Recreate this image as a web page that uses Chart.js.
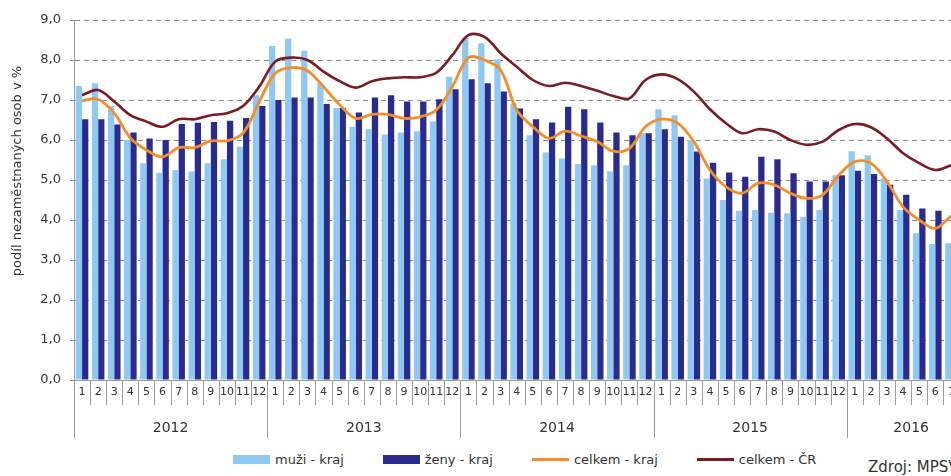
<!DOCTYPE html>
<html lang="cs">
<head>
    <meta charset="UTF-8">
    <title>Podíl nezaměstnaných osob</title>
    <script src="https://cdn.jsdelivr.net/npm/chart.js"></script>
    <style>
        body {
            margin: 0;
            width: 951px;
            height: 476px;
            overflow: hidden;
            background: #ffffff;
            font-family: "DejaVu Sans", Verdana, sans-serif;
            color: #333333;
            position: relative;
        }

        /* chart is wider than the window, the right edge is cut like in the source */
        .chart-box {
            position: absolute;
            left: 0;
            top: 0;
            width: 977px;
            height: 442px;
        }

        .legend {
            position: absolute;
            left: 233px;
            top: 452px;
            display: flex;
            gap: 39px;
            font-size: 13px;
            white-space: nowrap;
        }

        .legend .item {
            display: flex;
            align-items: center;
        }

        .legend .swatch {
            width: 37px;
            margin-right: 5px;
        }

        .source {
            position: absolute;
            left: 868px;
            top: 458px;
            font-size: 15px;
            white-space: nowrap;
        }
    </style>
</head>
<body>

    <div class="chart-box">
        <canvas id="unempChart"></canvas>
    </div>
    <div class="legend" id="legend"></div>
    <div class="source">Zdroj: MPSV</div>

    <script>
        // data
        const years = ['2012', '2013', '2014', '2015', '2016'];
        const monthsPerYear = [12, 12, 12, 12, 8];
        const yTitle = 'podíl nezaměstnaných osob v %';

        const muziKraj = [
            7.35, 7.42, 6.85, 6.00, 5.42, 5.18, 5.25, 5.21, 5.42, 5.52, 5.83, 7.12,
            8.35, 8.54, 8.23, 7.42, 6.80, 6.33, 6.27, 6.14, 6.19, 6.22, 6.46, 7.58,
            8.55, 8.42, 8.02, 6.92, 6.12, 5.69, 5.54, 5.40, 5.37, 5.22, 5.37, 6.17,
            6.77, 6.62, 6.00, 5.04, 4.50, 4.23, 4.25, 4.18, 4.17, 4.08, 4.25, 5.12,
            5.72, 5.62, 5.04, 4.25, 3.67, 3.40, 3.42, 3.50
        ];
        const zenyKraj = [
            6.52, 6.52, 6.39, 6.19, 6.04, 6.00, 6.40, 6.43, 6.45, 6.48, 6.55, 6.85,
            7.00, 7.06, 7.06, 6.90, 6.80, 6.69, 7.06, 7.12, 6.96, 6.96, 7.02, 7.27,
            7.52, 7.42, 7.21, 6.79, 6.52, 6.44, 6.83, 6.77, 6.44, 6.19, 6.12, 6.17,
            6.27, 6.08, 5.71, 5.43, 5.19, 5.08, 5.58, 5.52, 5.17, 4.96, 4.96, 5.12,
            5.23, 5.15, 4.88, 4.63, 4.29, 4.23, 4.30, 4.40
        ];
        const celkemKraj = [
            6.98, 7.02, 6.67, 6.05, 5.75, 5.58, 5.81, 5.81, 5.98, 5.98, 6.17, 6.95,
            7.67, 7.81, 7.73, 7.33, 6.88, 6.54, 6.64, 6.64, 6.54, 6.58, 6.75, 7.33,
            8.06, 8.00, 7.75, 6.75, 6.33, 6.04, 6.22, 6.10, 5.96, 5.72, 5.79, 6.33,
            6.52, 6.42, 5.96, 5.25, 4.83, 4.67, 4.92, 4.88, 4.67, 4.54, 4.63, 5.12,
            5.46, 5.42, 4.96, 4.33, 4.00, 3.79, 4.10, 4.30
        ];
        const celkemCR = [
            7.12, 7.25, 6.96, 6.62, 6.46, 6.33, 6.52, 6.52, 6.62, 6.67, 6.85, 7.33,
            7.96, 8.06, 8.00, 7.71, 7.47, 7.31, 7.47, 7.54, 7.57, 7.57, 7.68, 8.12,
            8.62, 8.58, 8.17, 7.83, 7.50, 7.35, 7.43, 7.35, 7.23, 7.10, 7.04, 7.50,
            7.64, 7.52, 7.21, 6.77, 6.42, 6.17, 6.27, 6.21, 6.00, 5.88, 5.96, 6.25,
            6.40, 6.32, 6.04, 5.67, 5.42, 5.25, 5.37, 5.50
        ];

        const colors = {
            muzi: '#8fc9f3',
            zeny: '#2a2b8e',
            kraj: '#f58d28',
            cr: '#7b1b24'
        };

        // month labels 1..12 for every year
        const monthLabels = [];
        monthsPerYear.forEach(n => {
            for (let m = 1; m <= n; m++) monthLabels.push(String(m));
        });

        const fontName = '"DejaVu Sans", Verdana, sans-serif';

        // month/year separators under the axis, year captions and the y title
        const axisDecor = {
            id: 'axisDecor',
            afterDraw(chart) {
                const { ctx, chartArea } = chart;
                const x = chart.scales.x;
                const half = (x.getPixelForValue(1) - x.getPixelForValue(0)) / 2;
                const bottom = chartArea.bottom;

                ctx.save();
                ctx.strokeStyle = '#9c9c9c';
                ctx.lineWidth = 1;
                for (let i = 0; i <= monthLabels.length; i++) {
                    const px = Math.round(x.getPixelForValue(i) - half) + 0.5;
                    const yearEdge = i % 12 === 0;
                    ctx.beginPath();
                    ctx.moveTo(px, bottom);
                    ctx.lineTo(px, bottom + (yearEdge ? 58 : 25));
                    ctx.stroke();
                }

                ctx.fillStyle = '#333333';
                ctx.font = '14px ' + fontName;
                ctx.textAlign = 'center';
                ctx.textBaseline = 'middle';
                let start = 0;
                years.forEach((yr, k) => {
                    const end = start + monthsPerYear[k] - 1;
                    const cx = (x.getPixelForValue(start) + x.getPixelForValue(end)) / 2;
                    ctx.fillText(yr, cx, bottom + 48);
                    start = end + 1;
                });

                ctx.font = '13px ' + fontName;
                ctx.translate(18, chartArea.top + 151);
                ctx.rotate(-Math.PI / 2);
                ctx.fillText(yTitle, 0, 0);
                ctx.restore();
            }
        };

        const ctx = document.getElementById('unempChart').getContext('2d');
        new Chart(ctx, {
            type: 'bar',
            data: {
                labels: monthLabels,
                datasets: [
                    {
                        label: 'muži - kraj',
                        data: muziKraj,
                        backgroundColor: colors.muzi,
                        barPercentage: 1.0,
                        categoryPercentage: 0.78,
                        order: 3
                    },
                    {
                        label: 'ženy - kraj',
                        data: zenyKraj,
                        backgroundColor: colors.zeny,
                        barPercentage: 1.0,
                        categoryPercentage: 0.78,
                        order: 3
                    },
                    {
                        type: 'line',
                        label: 'celkem - kraj',
                        data: celkemKraj,
                        borderColor: colors.kraj,
                        backgroundColor: colors.kraj,
                        borderWidth: 2.8,
                        pointRadius: 0,
                        tension: 0.35,
                        order: 1
                    },
                    {
                        type: 'line',
                        label: 'celkem - ČR',
                        data: celkemCR,
                        borderColor: colors.cr,
                        backgroundColor: colors.cr,
                        borderWidth: 2.6,
                        pointRadius: 0,
                        tension: 0.35,
                        order: 2
                    }
                ]
            },
            options: {
                responsive: true,
                maintainAspectRatio: false,
                animation: false,
                layout: { padding: { top: 20, right: 0, left: 0, bottom: 0 } },
                plugins: {
                    legend: { display: false },
                    tooltip: { enabled: false }
                },
                scales: {
                    x: {
                        grid: { display: false, drawTicks: false },
                        border: { display: true, color: '#9c9c9c', width: 1 },
                        ticks: {
                            autoSkip: false,
                            maxRotation: 0,
                            padding: 6,
                            color: '#333333',
                            font: { family: fontName, size: 11 }
                        },
                        afterFit: (scale) => { scale.height = 62; }
                    },
                    y: {
                        min: 0,
                        max: 9,
                        grid: {
                            color: '#8c8c8c',
                            lineWidth: 1,
                            tickLength: 4
                        },
                        border: { display: true, color: '#9c9c9c', width: 1, dash: [5, 4] },
                        ticks: {
                            stepSize: 1,
                            padding: 9,
                            color: '#333333',
                            font: { family: fontName, size: 13 },
                            callback: (v) => v.toFixed(1).replace('.', ',')
                        },
                        afterFit: (scale) => { scale.width = 74; }
                    }
                }
            },
            plugins: [axisDecor]
        });

        // legend as in the source: boxes for bars, short lines for the totals
        const legendItems = [
            { text: 'muži - kraj', color: colors.muzi, h: 9 },
            { text: 'ženy - kraj', color: colors.zeny, h: 9 },
            { text: 'celkem - kraj', color: colors.kraj, h: 3 },
            { text: 'celkem - ČR', color: colors.cr, h: 3 }
        ];
        const legendEl = document.getElementById('legend');
        legendItems.forEach(it => {
            const item = document.createElement('div');
            item.className = 'item';
            const sw = document.createElement('span');
            sw.className = 'swatch';
            sw.style.height = it.h + 'px';
            sw.style.background = it.color;
            const label = document.createElement('span');
            label.textContent = it.text;
            item.appendChild(sw);
            item.appendChild(label);
            legendEl.appendChild(item);
        });
    </script>
</body>
</html>
